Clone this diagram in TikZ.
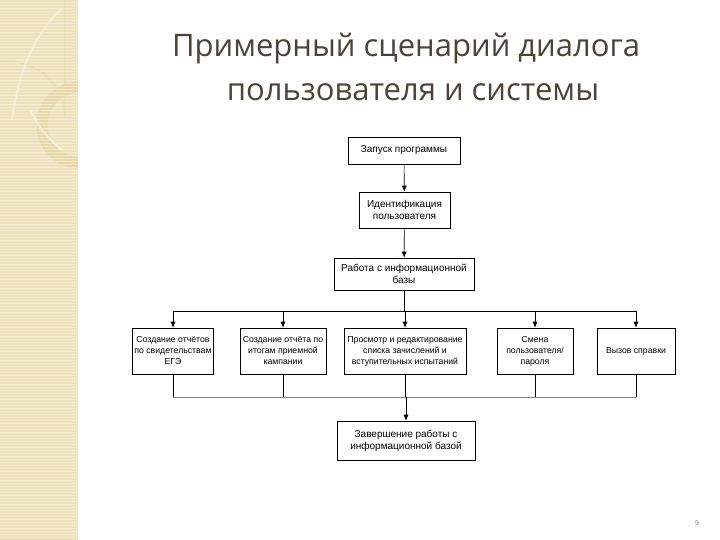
\documentclass[tikz,border=0pt]{standalone}
\usepackage{fontspec}
\setmainfont{Liberation Sans}
\newfontfamily\titlefont{Open Sans}
\usetikzlibrary{arrows.meta}
\definecolor{stripbeige}{RGB}{238,226,190}
\definecolor{stripline}{RGB}{246,238,214}
\definecolor{ringbeige}{RGB}{232,216,168}
\definecolor{titlebrown}{RGB}{78,66,54}
\begin{document}
\begin{tikzpicture}
[x=1pt,y=-1pt,
  boxdecorate/.style={shape=rectangle,draw,semithick,align=center,inner sep=2pt,
    font=\fontsize{10}{12}\selectfont},%
  smallbox/.style={boxdecorate,minimum height=46pt,
    font=\fontsize{8.7}{11}\selectfont},%
  linedecorate/.style={-,semithick},%
  arrowdecorate/.style={-{Latex[length=6pt,width=5pt]},semithick}]
\useasboundingbox (0,0) rectangle (720,540);
%% left decorative strip
\begin{scope}
\clip (0,0) rectangle (78,540);
\fill[stripbeige] (0,0) rectangle (78,540);
\draw[ringbeige,line width=10pt] (80,125) circle[radius=38];
\draw[ringbeige!80!black!30!stripbeige,line width=0.6pt] (80,125) circle[radius=43] (80,125) circle[radius=33];
\draw[ringbeige,line width=1.2pt] (0,62) -- (10,62) arc[start angle=270,end angle=360,radius=55] -- (65,0);
\foreach \yy in {0,3,...,540}
  \draw[stripline,line width=1pt,opacity=0.8] (0,\yy) -- (78,\yy);
\draw[stripline,line width=2pt] (12,120) .. controls (20,60) and (40,30) .. (62,8);
\draw[stripline,line width=2pt] (30,110) .. controls (40,130) and (50,140) .. (62,150);
\end{scope}
%% title
\node (title1) at (406,49) [font=\titlefont\fontsize{31}{36}\selectfont,text=titlebrown] {Примерный сценарий диалога};
\node (title2) at (413,92) [font=\titlefont\fontsize{31}{36}\selectfont,text=titlebrown] {пользователя и системы};
%% nodes
\node (start) at (404,150.5) [boxdecorate,minimum width=112pt,minimum height=27pt] {Запуск программы};
\node (ident) at (404.5,210) [boxdecorate,minimum width=91pt,minimum height=36pt] {Идентификация\\пользователя};
\node (base) at (404,274) [boxdecorate,minimum width=140pt,minimum height=32pt] {Работа с информационной\\базы};
\foreach \nodename/\x/\boxwidth/\txt in {
  ege/173/80/{Создание отчётов\\по свидетельствам\\ЕГЭ},
  itog/283/86/{Создание отчёта по\\итогам приемной\\кампании},
  spis/405/122/{Просмотр и редактирование\\списка зачислений и\\вступительных испытаний},
  user/535/76/{Смена\\пользователя/\\пароля},
  help/636/78/{Вызов справки}}
{
  \node (\nodename) at (\x,351) [smallbox,minimum width=\boxwidth pt] {\txt};
}
\node (finish) at (406,440.5) [boxdecorate,minimum width=138pt,minimum height=39pt] {Завершение работы с\\информационной базой};
\node (pagenum) at (697,523) [text=gray,font=\fontsize{7}{8}\selectfont] {9};
%% bus coordinates
\coordinate (topbusL) at (173,311);
\coordinate (topbusR) at (636,311);
\coordinate (botbusL) at (173,397);
\coordinate (botbusR) at (636,397);
%% edges or lines
\draw[arrowdecorate] (start) -- (ident);
\draw[arrowdecorate] (ident) -- (base);
\draw[linedecorate] (base.south) -- (base.south |- topbusL);
\draw[linedecorate] (topbusL) -- (topbusR);
\draw[linedecorate,gray] (botbusL) -- (botbusR);
\foreach \nodename in {ege,itog,spis,user,help}
{
  \draw[arrowdecorate] (\nodename.north |- topbusL) -- (\nodename.north);
  \draw[linedecorate] (\nodename.south) -- (\nodename.south |- botbusL);
}
\draw[arrowdecorate] (finish.north |- botbusL) -- (finish.north);
\end{tikzpicture}
\end{document}
